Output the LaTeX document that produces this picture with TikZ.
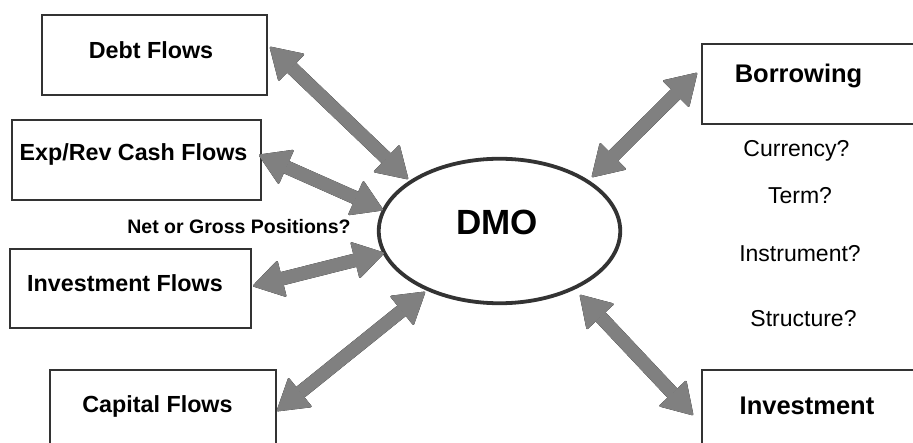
\documentclass[tikz,border=0pt]{standalone}
\usepackage{fontspec}
\setmainfont{Liberation Sans}
\usetikzlibrary{arrows.meta,shapes.geometric}
\definecolor{arrowgrey}{HTML}{808080}
\definecolor{edgegrey}{HTML}{333333}
\tikzset{
  fathead/.tip={Triangle[width=38pt,length=31pt,round,line width=2pt]},
  box/.style={draw=edgegrey, line width=1.2pt, fill=white, rectangle, inner sep=0pt},
  lbl/.style={anchor=base, inner sep=0pt, font=\bfseries\fontsize{23.3}{26}\selectfont},
  biglbl/.style={anchor=base, inner sep=0pt, font=\bfseries\fontsize{25.5}{28}\selectfont},
  qlbl/.style={anchor=base, inner sep=0pt, font=\fontsize{23}{26}\selectfont},
  fat/.style={line width=13.5pt, {fathead}-{fathead}},
  fatshadow/.style={fat, draw=black, shift={(1.6,2.2)}},
  fatbody/.style={fat, draw=arrowgrey},
}
\newcommand{\fatlink}[2]{%
  \draw[fatshadow] (#1) -- (#2);
  \draw[fatbody] (#1) -- (#2);
}
\begin{document}
\begin{tikzpicture}[x=1pt,y=-1pt]
\useasboundingbox (0,0) rectangle (913,443);

% boxes
\node[box, minimum width=225pt, minimum height=80pt] (debt) at (154.5,55) {};
\node[box, minimum width=249pt, minimum height=80pt] (exprev) at (136.5,160) {};
\node[box, minimum width=241pt, minimum height=79pt] (invflows) at (130.5,288.5) {};
\node[box, minimum width=226pt, minimum height=80pt] (capital) at (163,410) {};
\node[box, minimum width=240pt, minimum height=80pt] (borrow) at (822,84) {};
\node[box, minimum width=240pt, minimum height=80pt] (invest) at (822,410) {};

% central ellipse
\node[ellipse, draw=edgegrey, line width=3.8pt, fill=white, inner sep=0pt,
      minimum width=241.5pt, minimum height=144.5pt] (dmo) at (499.5,231) {};

% arrow end points
\coordinate (debtEnd) at (270,47);
\coordinate (debtDmo) at (408,179);
\coordinate (exprevEnd) at (259,155);
\coordinate (exprevDmo) at (383,210);
\coordinate (invflowsEnd) at (253,286);
\coordinate (invflowsDmo) at (384,253);
\coordinate (capitalEnd) at (277,411);
\coordinate (capitalDmo) at (425,292);
\coordinate (borrowEnd) at (697,73);
\coordinate (borrowDmo) at (592,177);
\coordinate (investEnd) at (693,415);
\coordinate (investDmo) at (580,295);

% double-headed arrows
\fatlink{debtEnd}{debtDmo}
\fatlink{exprevEnd}{exprevDmo}
\fatlink{invflowsEnd}{invflowsDmo}
\fatlink{capitalEnd}{capitalDmo}
\fatlink{borrowEnd}{borrowDmo}
\fatlink{investEnd}{investDmo}

% texts
\node[lbl] (debtT) at (151,59) {Debt Flows};
\node[lbl] (exprevT) at (133.5,161) {Exp/Rev Cash Flows};
\node[anchor=base, inner sep=0pt, font=\bfseries\fontsize{19.5}{22}\selectfont] (netT) at (239,234) {Net or Gross Positions?};
\node[lbl] (invflowsT) at (125,292) {Investment Flows};
\node[lbl] (capitalT) at (157.5,413) {Capital Flows};
\node[biglbl] (borrowT) at (798.5,83) {Borrowing};
\node[biglbl] (investT) at (807,415) {Investment};
\node[qlbl] (currT) at (796.5,157) {Currency?};
\node[qlbl] (termT) at (800,204) {Term?};
\node[qlbl] (instrT) at (800,262) {Instrument?};
\node[qlbl] (structT) at (803.5,327) {Structure?};
\node[anchor=base, inner sep=0pt, font=\bfseries\fontsize{35}{40}\selectfont] (dmoT) at (497,235) {DMO};
\end{tikzpicture}
\end{document}
